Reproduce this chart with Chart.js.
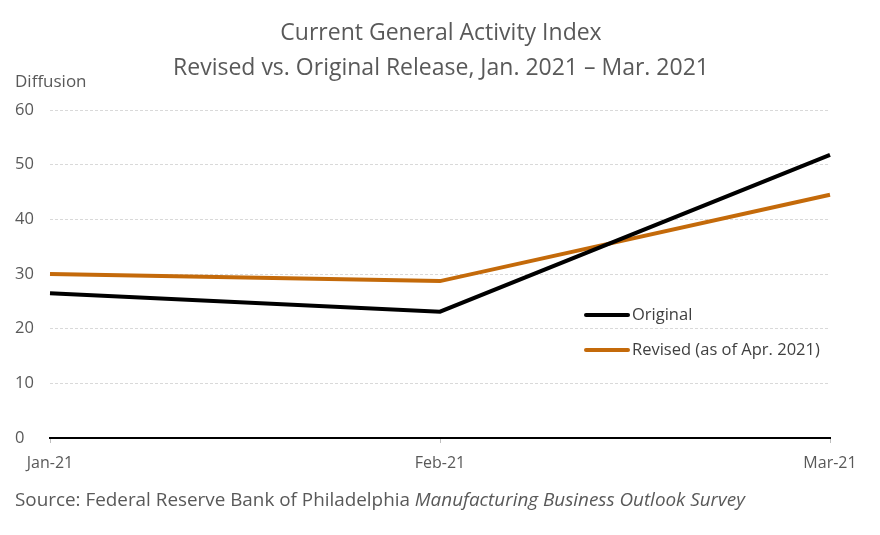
<!DOCTYPE html>
<html>
<head>
<meta charset="utf-8">
<script src="https://cdnjs.cloudflare.com/ajax/libs/Chart.js/4.4.1/chart.umd.min.js"></script>
<style>
  html,body{margin:0;padding:0;background:#fff;}
  #wrap{width:880px;height:535px;position:relative;}
</style>
</head>
<body>
<div id="wrap"><canvas id="chart" width="880" height="535"></canvas></div>
<script>
// Philly Fed current general activity, original vs revised
const MONTHS   = ['Jan-21', 'Feb-21', 'Mar-21'];
const ORIGINAL = [26.5, 23.1, 51.8];
const REVISED  = [30.0, 28.7, 44.5];
const Y_TICKS  = [0, 10, 20, 30, 40, 50, 60];

const TITLE  = ['Current General Activity Index', 'Revised vs. Original Release, Jan. 2021 \u2013 Mar. 2021'];
const Y_NAME = 'Diffusion';
const SOURCE = ['Source: Federal Reserve Bank of Philadelphia ', 'Manufacturing Business Outlook Survey'];

const FONT = "'Open Sans', sans-serif";
const GREY = '#595959';
const ORANGE = '#C46A0A';

// size a font so a string spans roughly the width it has in the original
function fitSize(ctx, text, width, style){
  ctx.font=`${style} 20px ${FONT}`;
  return 20*width/ctx.measureText(text).width;
}

// title, axis name, legend and source are drawn straight on the canvas
const decor = {
  id:'decor',
  afterDraw(c){
    const ctx=c.ctx;
    ctx.save();
    ctx.fillStyle=GREY; ctx.textBaseline='middle';
    const ts=Math.min(fitSize(ctx,TITLE[1],555,''), 23);
    ctx.font=`${ts}px ${FONT}`; ctx.textAlign='center';
    ctx.fillText(TITLE[0], 441, 33);
    ctx.fillText(TITLE[1], 441, 68);

    ctx.textAlign='left'; ctx.font=`17px ${FONT}`;
    ctx.fillText(Y_NAME, 15, 82);

    // legend inside plot
    const items=[[c.data.datasets[0], 315], [c.data.datasets[1], 350]];
    for(const [ds,y] of items){
      ctx.strokeStyle=ds.borderColor; ctx.lineWidth=4; ctx.lineCap='round';
      ctx.beginPath(); ctx.moveTo(586,y); ctx.lineTo(628,y); ctx.stroke();
      ctx.fillStyle='#404040'; ctx.font=`16.5px ${FONT}`;
      ctx.fillText(ds.label, 632, y);
    }

    // source line, plain + italic
    ctx.fillStyle=GREY;
    ctx.font=`17px ${FONT}`;
    const w0=ctx.measureText(SOURCE[0]).width;
    ctx.font=`italic 17px ${FONT}`;
    const w1=ctx.measureText(SOURCE[1]).width;
    const ss=17*730/(w0+w1);
    ctx.font=`${ss}px ${FONT}`;
    ctx.fillText(SOURCE[0], 15, 501);
    const w=ctx.measureText(SOURCE[0]).width;
    ctx.font=`italic ${ss}px ${FONT}`;
    ctx.fillText(SOURCE[1], 15+w, 501);
    ctx.restore();
  }
};

new Chart(document.getElementById('chart'), {
  type:'line',
  data:{
    labels:MONTHS,
    datasets:[
      {label:'Original', data:ORIGINAL, borderColor:'#000000', backgroundColor:'#000000',
       borderWidth:4, pointRadius:0, tension:0},
      {label:'Revised (as of Apr. 2021)', data:REVISED, borderColor:ORANGE, backgroundColor:ORANGE,
       borderWidth:4, pointRadius:0, tension:0},
    ]
  },
  options:{
    responsive:false, animation:false,
    layout:{padding:{left:15, right:50, top:110, bottom:0}},
    plugins:{legend:{display:false}, title:{display:false}, tooltip:{enabled:false}},
    scales:{
      x:{
        offset:false,
        grid:{drawOnChartArea:false, drawTicks:true, tickLength:5, color:'#bfbfbf'},
        border:{display:true, color:'#000', width:2},
        ticks:{color:GREY, font:{family:FONT, size:16}, padding:11, maxRotation:0, autoSkip:false},
        afterFit:s=>{ s.height=97; }
      },
      y:{
        min:0, max:60,
        afterBuildTicks:s=>{ s.ticks=Y_TICKS.map(v=>({value:v})); },
        grid:{color:'#d9d9d9', lineWidth:1, drawTicks:false},
        border:{display:false, dash:[3,2]},
        ticks:{color:GREY, font:{family:FONT, size:16.5}, crossAlign:'far', padding:0},
        afterFit:s=>{ s.width=35; }
      }
    }
  },
  plugins:[decor]
});
</script>
</body>
</html>
